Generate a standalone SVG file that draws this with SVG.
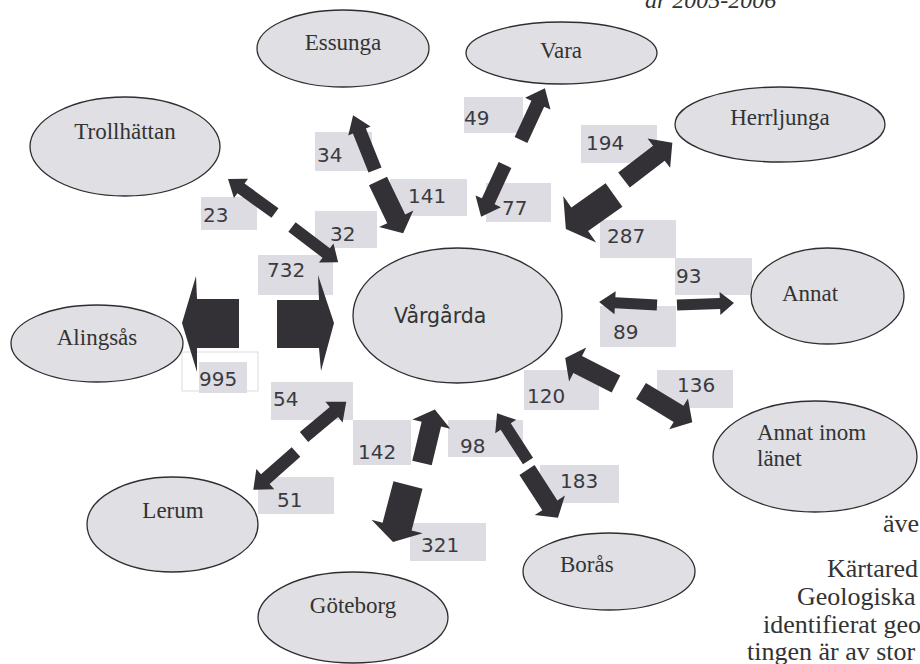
<svg xmlns="http://www.w3.org/2000/svg" width="920" height="664" viewBox="0 0 920 664">
<style>
.node{fill:#dfdfe4;stroke:#2e2e30;stroke-width:1.3}
.lbl{font-family:"Liberation Serif","Times New Roman",serif;font-size:23px;fill:#333}
.box{fill:#dcdce2}
.num{font-family:"DejaVu Sans",Verdana,sans-serif;font-size:20px;fill:#3a3a40}
.arr{fill:#333036}
.para{font-family:"Liberation Serif","Times New Roman",serif;font-size:26px;fill:#333}
</style>
<rect width="920" height="664" fill="#fff"/>
<text x="645" y="8" font-family="Liberation Serif,'Times New Roman',serif" font-style="italic" font-size="24" fill="#333">år 2005-2006</text>

<g id="labels">
<rect class="box" x="315" y="132" width="57" height="39"/><text class="num" x="317" y="162">34</text>
<rect class="box" x="201" y="197" width="56" height="33"/><text class="num" x="203" y="222">23</text>
<rect class="box" x="315" y="211" width="62" height="37"/><text class="num" x="330" y="241">32</text>
<rect class="box" x="390" y="179" width="77" height="37"/><text class="num" x="408" y="203">141</text>
<rect class="box" x="464" y="97" width="59" height="36"/><text class="num" x="464" y="125">49</text>
<rect class="box" x="486" y="183" width="65" height="39"/><text class="num" x="502" y="215">77</text>
<rect class="box" x="581" y="125" width="76" height="38"/><text class="num" x="586" y="150">194</text>
<rect class="box" x="600" y="220" width="76" height="38"/><text class="num" x="607" y="243">287</text>
<rect class="box" x="675" y="258" width="77" height="37"/><text class="num" x="676" y="283">93</text>
<rect class="box" x="600" y="306" width="76" height="41"/><text class="num" x="613" y="339">89</text>
<rect class="box" x="524" y="370" width="75" height="40"/><text class="num" x="527" y="403">120</text>
<rect class="box" x="657" y="370" width="76" height="38"/><text class="num" x="677" y="392">136</text>
<rect class="box" x="258" y="255" width="75" height="40"/><text class="num" x="267" y="277">732</text>
<rect x="182" y="352" width="76" height="39" fill="#fff" stroke="#dcdce2" stroke-width="1"/>
<rect class="box" x="199" y="362" width="48" height="31"/><text class="num" x="199" y="386">995</text>
<rect class="box" x="271" y="382" width="82" height="38"/><text class="num" x="273" y="406">54</text>
<rect class="box" x="258" y="477" width="76" height="37"/><text class="num" x="277" y="507">51</text>
<rect class="box" x="353" y="420" width="58" height="45"/><text class="num" x="358" y="459">142</text>
<rect class="box" x="448" y="420" width="75" height="37"/><text class="num" x="460" y="453">98</text>
<rect class="box" x="540" y="465" width="79" height="38"/><text class="num" x="560" y="488">183</text>
<rect class="box" x="410" y="523" width="76" height="38"/><text class="num" x="421" y="552">321</text>
</g>

<g id="connectors">
<polygon class="arr" transform="translate(375,170) rotate(-111.8)" points="0,-7 42,-7 42,-12 59,0 42,12 42,7 0,7"/>
<polygon class="arr" transform="translate(378,181) rotate(64.3)" points="0,-10 42,-10 42,-19 58,0 42,19 42,10 0,10"/>
<polygon class="arr" transform="translate(275,213) rotate(-144.1)" points="0,-6 42,-6 42,-12 58,0 42,12 42,6 0,6"/>
<polygon class="arr" transform="translate(292,227) rotate(37.3)" points="0,-6 43,-6 43,-12 58,0 43,12 43,6 0,6"/>
<polygon class="arr" transform="translate(521,140) rotate(-65.2)" points="0,-7 40,-7 40,-14 57,0 40,14 40,7 0,7"/>
<polygon class="arr" transform="translate(505,165) rotate(114.8)" points="0,-7 40,-7 40,-14 57,0 40,14 40,7 0,7"/>
<polygon class="arr" transform="translate(624,180) rotate(-37.6)" points="0,-9.5 44,-9.5 44,-18.5 61,0 44,18.5 44,9.5 0,9.5"/>
<polygon class="arr" transform="translate(614,195) rotate(144.7)" points="0,-14.5 42,-14.5 42,-28.5 59,0 42,28.5 42,14.5 0,14.5"/>
<polygon class="arr" points="277,300 319,300 318,275 334,323 321,371 319,348 277,348"/>
<polygon class="arr" points="239,299 197,299 196,276 182,323 197,372 197,348 239,348"/>
<polygon class="arr" transform="translate(677,305) rotate(-2)" points="0,-5.5 43,-5.5 43,-11.5 57,0 43,11.5 43,5.5 0,5.5"/>
<polygon class="arr" transform="translate(657,305) rotate(-177)" points="0,-5.5 42,-5.5 42,-11.5 58,0 42,11.5 42,5.5 0,5.5"/>
<polygon class="arr" transform="translate(616,384) rotate(-153)" points="0,-9.5 43,-9.5 43,-19 57,0 43,19 43,9.5 0,9.5"/>
<polygon class="arr" transform="translate(641,391) rotate(31.3)" points="0,-9.5 44,-9.5 44,-18 60,0 44,18 44,9.5 0,9.5"/>
<polygon class="arr" transform="translate(304,437) rotate(-39.8)" points="0,-6.5 39,-6.5 39,-13.5 55,0 39,13.5 39,6.5 0,6.5"/>
<polygon class="arr" transform="translate(296,452) rotate(138.5)" points="0,-6.5 41,-6.5 41,-13.5 57,0 41,13.5 41,6.5 0,6.5"/>
<polygon class="arr" transform="translate(422,463) rotate(-76.5)" points="0,-10 40,-10 40,-19.5 55,0 40,19.5 40,10 0,10"/>
<polygon class="arr" transform="translate(408,485) rotate(104.7)" points="0,-15 43,-15 43,-26.5 59,0 43,26.5 43,15 0,15"/>
<polygon class="arr" transform="translate(528,461) rotate(-122.9)" points="0,-6 41,-6 41,-12.5 57,0 41,12.5 41,6 0,6"/>
<polygon class="arr" transform="translate(527,470) rotate(57.1)" points="0,-9 42,-9 42,-18 57,0 42,18 42,9 0,9"/>
</g>

<g id="essunga"><ellipse class="node" cx="343" cy="48.5" rx="86" ry="38.5"/><text class="lbl" x="343" y="50" text-anchor="middle">Essunga</text></g>
<g id="trollhattan"><ellipse class="node" cx="125" cy="146.5" rx="95" ry="49.5"/><text class="lbl" x="125" y="139" text-anchor="middle">Trollhättan</text></g>
<g id="vara"><ellipse class="node" cx="561.5" cy="53" rx="95.5" ry="31"/><text class="lbl" x="561" y="58" text-anchor="middle">Vara</text></g>
<g id="herrljunga"><ellipse class="node" cx="780" cy="124.5" rx="105" ry="37.5"/><text class="lbl" x="780" y="125" text-anchor="middle">Herrljunga</text></g>
<g id="alingsas"><ellipse class="node" cx="97" cy="343.5" rx="86" ry="38.5"/><text class="lbl" x="97" y="345" text-anchor="middle">Alingsås</text></g>
<g id="vargarda"><ellipse class="node" cx="457.5" cy="315.5" rx="104.5" ry="67.5"/><text x="394" y="323" font-family="DejaVu Sans,Verdana,sans-serif" font-size="20.5" fill="#333">Vårgårda</text></g>
<g id="annat"><ellipse class="node" cx="827.5" cy="296" rx="76.5" ry="48"/><text class="lbl" x="782" y="301" font-size="21">Annat</text></g>
<g id="annat-inom-lanet"><ellipse class="node" cx="815" cy="456.5" rx="102" ry="55.5"/><text class="lbl" x="757" y="440" font-size="20">Annat inom</text><text class="lbl" x="757" y="466" font-size="20">länet</text></g>
<g id="lerum"><ellipse class="node" cx="172.5" cy="524.5" rx="85.5" ry="47.5"/><text class="lbl" x="173" y="518" text-anchor="middle">Lerum</text></g>
<g id="goteborg"><ellipse class="node" cx="353" cy="617.5" rx="95" ry="45.5"/><text class="lbl" x="353" y="613" text-anchor="middle">Göteborg</text></g>
<g id="boras"><ellipse class="node" cx="609" cy="571.5" rx="86" ry="38.5"/><text class="lbl" x="560" y="572">Borås</text></g>

<g id="paragraph">
<text class="para" x="883" y="532">äve</text>
<text class="para" x="827" y="577">Kärtared</text>
<text class="para" x="797" y="605">Geologiska</text>
<text class="para" x="763" y="633">identifierat geo</text>
<text class="para" x="747" y="660">tingen är av stor</text>
</g>
</svg>
